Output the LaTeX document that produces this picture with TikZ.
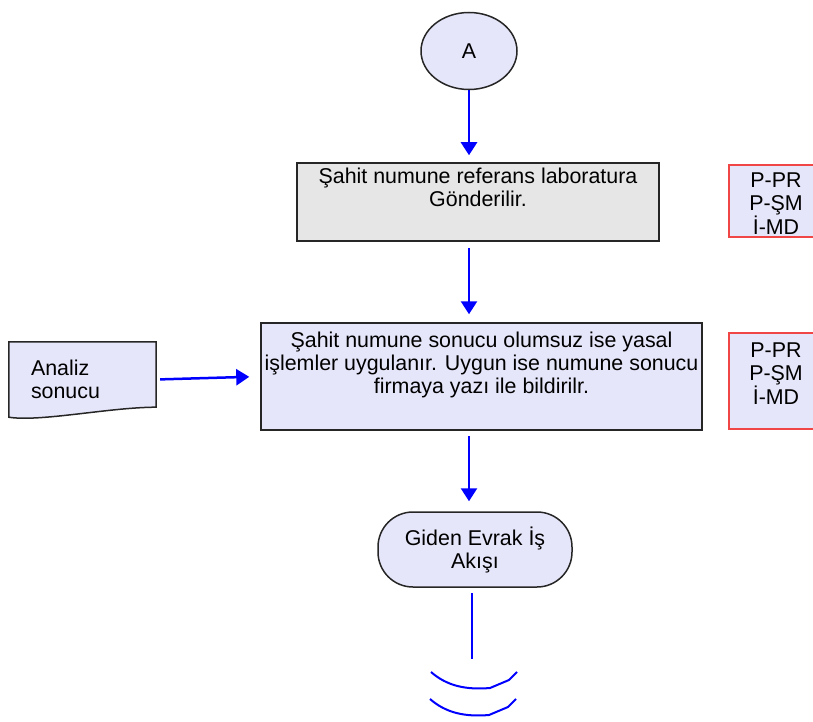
\documentclass[tikz,border=0pt]{standalone}
\usepackage{fontspec}
\setmainfont{Liberation Sans}
\usetikzlibrary{arrows.meta,shapes.geometric,backgrounds}
\definecolor{lavender}{RGB}{230,230,250}
\definecolor{boxgray}{RGB}{230,230,230}
\definecolor{refred}{RGB}{240,70,70}
% box text, top aligned: width, height, first baseline, text
\newcommand{\toptext}[4]{\parbox[c][#2][t]{#1}{\centering\rule{0pt}{#3}#4}}
\tikzset{
  stepbox/.style={draw=black!85,line width=1.5pt,inner sep=0pt},
  refbox/.style={draw=refred,fill=lavender,line width=1.5pt,inner sep=0pt},
  flow/.style={blue,line width=2.5pt,-{Triangle[width=16pt,length=13pt]}},
  breakline/.style={blue,line width=2pt},
}
\begin{document}
\begin{tikzpicture}[x=1pt,y=-1pt,font=\fontsize{21.4}{23}\selectfont]
  \useasboundingbox (0,0) rectangle (813,722);
  % connector and steps
  \node[stepbox,ellipse,fill=lavender,minimum width=96pt,minimum height=77pt] (A) at (469,51) {A};
  \node[stepbox,fill=boxgray] (gonder) at (478,202)
    {\toptext{362pt}{78pt}{20pt}{Şahit numune referans laboratura\\Gönderilir.}};
  \node[stepbox,fill=lavender] (sonuc) at (481.5,376.5)
    {\toptext{441pt}{107pt}{24pt}{Şahit numune sonucu olumsuz ise yasal\\işlemler uygulanır. Uygun ise numune sonucu\\firmaya yazı ile bildirilr.}};
  \node[stepbox,fill=lavender,rounded corners=35pt,minimum width=194pt,minimum height=75pt,align=center] (giden) at (475,549.5)
    {Giden Evrak İş\\Akışı};
  % responsible units
  \node[refbox] (ref1) at (776,201) {\toptext{94pt}{72pt}{22pt}{P-PR\\P-ŞM\\İ-MD}};
  \node[refbox] (ref2) at (776,381) {\toptext{94pt}{96pt}{24pt}{P-PR\\P-ŞM\\İ-MD}};
  % document
  \node[text width=103pt,inner xsep=22pt,inner ysep=0pt,minimum height=75pt,align=left] (analiz) at (82.5,379.5)
    {Analiz\\sonucu};
  \begin{pgfonlayer}{background}
    \draw[stepbox,fill=lavender] (analiz.north west) -- (analiz.north east) -- ([yshift=10pt]analiz.south east)
      .. controls ([xshift=-46pt,yshift=10pt]analiz.south east) and ([xshift=31pt,yshift=-5pt]analiz.south west) .. (analiz.south west) -- cycle;
  \end{pgfonlayer}
  % flow
  \draw[flow,shorten >=7pt] (A.south) -- (A.south |- gonder.north);
  \draw[flow,shorten <=6pt,shorten >=8pt] (gonder.south -| A.south) -- (A.south |- sonuc.north);
  \draw[flow,shorten <=5pt,shorten >=10pt] (sonuc.south -| A.south) -- (A.south |- giden.north);
  \draw[flow,shorten <=4pt,shorten >=11pt] (analiz.east) -- (sonuc.west);
  % page break
  \coordinate (kes) at (472,659);
  \draw[breakline] (giden.south -| kes) ++(0,5) -- (kes);
  \draw[breakline] (431,672) .. controls (447,686) and (466,690) .. (490,688) -- (509,680) -- (517,672);
  \draw[breakline] (430,699) .. controls (446,713) and (465,717) .. (489,715) -- (508,707) -- (516,699);
\end{tikzpicture}
\end{document}
